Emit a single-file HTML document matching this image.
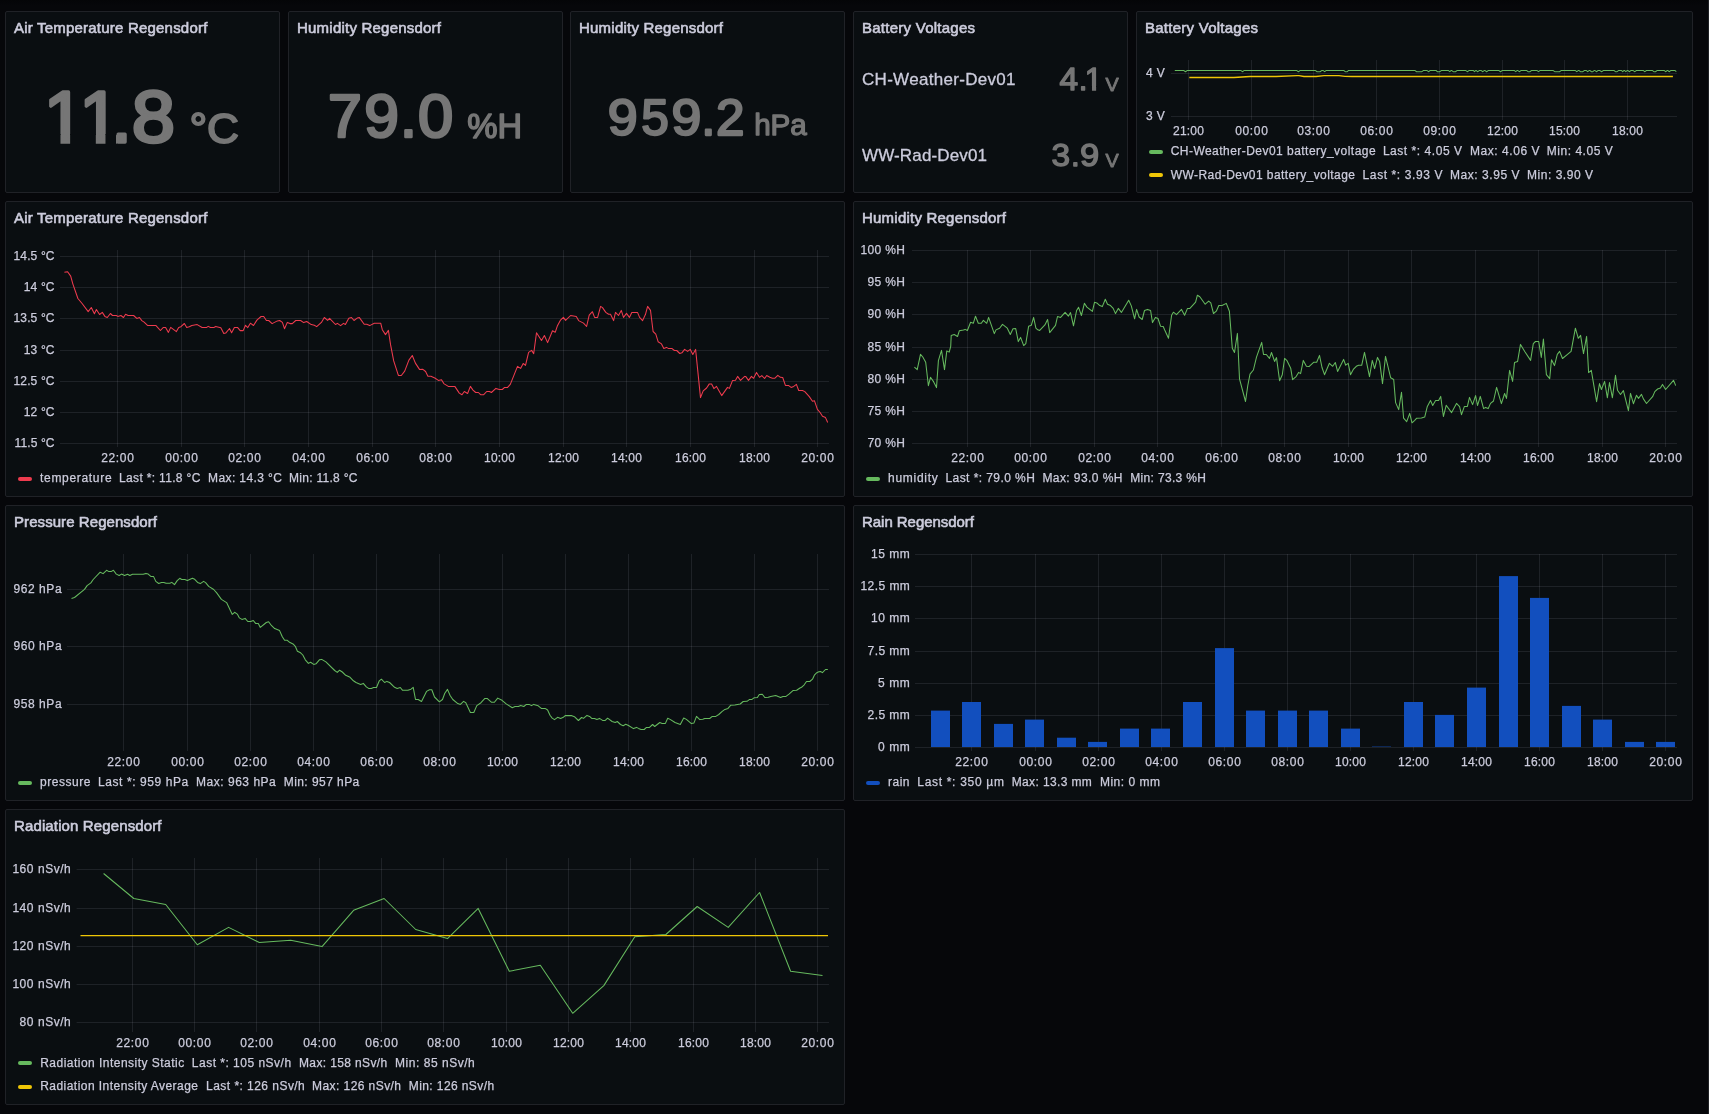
<!DOCTYPE html>
<html><head><meta charset="utf-8"><title>Weather Regensdorf</title>
<style>
html,body{margin:0;padding:0;background:#06070a;overflow:hidden}
body{width:1709px;height:1114px;position:relative;font-family:"Liberation Sans", sans-serif;color:#ccccdc}
.topg{position:absolute;left:0;top:0;width:1709px;height:6px;background:linear-gradient(#040507,#06070a)}
.sb{position:absolute;left:1708px;top:0;width:1px;height:1114px;background:#1f2125}
.p{position:absolute;box-sizing:border-box;background:#0a0e11;border:1px solid #202227;border-radius:2px}
svg{position:absolute;left:-1px;top:-1px;will-change:transform;overflow:visible}
svg text{font-family:"Liberation Sans", sans-serif;stroke:#ccccdc;stroke-width:0.25px}
svg text.t{font-size:15px;stroke-width:0.6px}
svg text.big{fill:#767676;stroke:#767676;stroke-linejoin:round}
svg text.lbl{stroke-width:0.3px}
</style></head><body>
<div class="topg"></div><div class="sb"></div>
<section class="p" id="stat_temp" style="left:5px;top:11px;width:275px;height:182px">
<svg width="275" height="182" viewBox="5 11 275 182">
<text class="t" x="14" y="33" fill="#ccccdc" textLength="193.3" lengthAdjust="spacing">Air Temperature Regensdorf</text>
<text class="big" y="142.37" font-size="72.95" style="stroke-width:3.26px"><tspan x="43.78">1</tspan><tspan x="79.13">1</tspan><tspan x="111.55">.</tspan><tspan x="131.88" textLength="43.32" lengthAdjust="spacingAndGlyphs">8</tspan></text>
<rect x="46.00" y="134" width="14.46" height="11" fill="#0a0e11"/>
<rect x="70.14" y="134" width="13.86" height="11" fill="#0a0e11"/>
<rect x="82.00" y="134" width="13.81" height="11" fill="#0a0e11"/>
<rect x="105.49" y="134" width="10.51" height="11" fill="#0a0e11"/>
<text class="big" x="189.43" y="143.07" font-size="41.89" style="stroke-width:1.87px" textLength="49.6" lengthAdjust="spacingAndGlyphs">°C</text>
</svg></section>
<section class="p" id="stat_hum" style="left:288px;top:11px;width:275px;height:182px">
<svg width="275" height="182" viewBox="288 11 275 182">
<text class="t" x="297" y="33" fill="#ccccdc" textLength="144" lengthAdjust="spacing">Humidity Regensdorf</text>
<text class="big" y="137.45" font-size="60.72" style="stroke-width:2.71px"><tspan x="327.96" textLength="33.79" lengthAdjust="spacingAndGlyphs">7</tspan><tspan x="364.22" textLength="34.72" lengthAdjust="spacingAndGlyphs">9</tspan><tspan x="400.09">.</tspan><tspan x="418.09" textLength="35.19" lengthAdjust="spacingAndGlyphs">0</tspan></text>
<text class="big" x="467.30" y="138.10" font-size="35.77" style="stroke-width:1.60px" textLength="54.9" lengthAdjust="spacingAndGlyphs">%H</text>
</svg></section>
<section class="p" id="stat_pres" style="left:570px;top:11px;width:275px;height:182px">
<svg width="275" height="182" viewBox="570 11 275 182">
<text class="t" x="579" y="33" fill="#ccccdc" textLength="144" lengthAdjust="spacing">Humidity Regensdorf</text>
<text class="big" y="134.97" font-size="50.83" style="stroke-width:2.27px"><tspan x="607.70" textLength="29.95" lengthAdjust="spacingAndGlyphs">9</tspan><tspan x="641.15" textLength="27.54" lengthAdjust="spacingAndGlyphs">5</tspan><tspan x="671.41" textLength="29.83" lengthAdjust="spacingAndGlyphs">9</tspan><tspan x="701.21">.</tspan><tspan x="715.97" textLength="28.51" lengthAdjust="spacingAndGlyphs">2</tspan></text>
<text class="big" x="754.15" y="135.45" font-size="29.18" style="stroke-width:1.30px" textLength="52.7" lengthAdjust="spacingAndGlyphs">hPa</text>
</svg></section>
<section class="p" id="stat_bat" style="left:853px;top:11px;width:275px;height:182px">
<svg width="275" height="182" viewBox="853 11 275 182">
<text class="t" x="862" y="33" fill="#ccccdc" textLength="113" lengthAdjust="spacing">Battery Voltages</text>
<text class="big" y="90.20" font-size="31.35" style="stroke-width:1.40px"><tspan x="1059.63" textLength="18.57" lengthAdjust="spacingAndGlyphs">4</tspan><tspan x="1078.76">.</tspan><tspan x="1084.80">1</tspan></text>
<rect x="1086.10" y="86" width="5.87" height="6" fill="#0a0e11"/>
<rect x="1096.13" y="86" width="6.87" height="6" fill="#0a0e11"/>
<text class="big" x="1105.42" y="90.58" font-size="18.83" style="stroke-width:0.84px" textLength="13.2" lengthAdjust="spacingAndGlyphs">V</text>
<text class="big" y="166.20" font-size="31.35" style="stroke-width:1.40px"><tspan x="1051.43" textLength="18.57" lengthAdjust="spacingAndGlyphs">3</tspan><tspan x="1070.91">.</tspan><tspan x="1080.08" textLength="19.18" lengthAdjust="spacingAndGlyphs">9</tspan></text>
<text class="big" x="1105.42" y="166.58" font-size="18.83" style="stroke-width:0.84px" textLength="13.2" lengthAdjust="spacingAndGlyphs">V</text>
<text class="lbl" x="862" y="85" font-size="17" fill="#ccccdc" textLength="153.5" lengthAdjust="spacing">CH-Weather-Dev01</text>
<text class="lbl" x="862" y="160.8" font-size="17" fill="#ccccdc" textLength="125" lengthAdjust="spacing">WW-Rad-Dev01</text>
</svg></section>
<section class="p" id="bat" style="left:1136px;top:11px;width:557px;height:182px">
<svg width="557" height="182" viewBox="1136 11 557 182">
<text class="t" x="1145" y="33" fill="#ccccdc" textLength="113" lengthAdjust="spacing">Battery Voltages</text>
<rect x="1171" y="73" width="506" height="1" fill="rgba(204,210,225,0.105)"/>
<rect x="1171" y="116" width="506" height="1" fill="rgba(204,210,225,0.105)"/>
<rect x="1188" y="60" width="1" height="60" fill="rgba(204,210,225,0.105)"/>
<rect x="1251" y="60" width="1" height="60" fill="rgba(204,210,225,0.105)"/>
<rect x="1313" y="60" width="1" height="60" fill="rgba(204,210,225,0.105)"/>
<rect x="1376" y="60" width="1" height="60" fill="rgba(204,210,225,0.105)"/>
<rect x="1439" y="60" width="1" height="60" fill="rgba(204,210,225,0.105)"/>
<rect x="1502" y="60" width="1" height="60" fill="rgba(204,210,225,0.105)"/>
<rect x="1564" y="60" width="1" height="60" fill="rgba(204,210,225,0.105)"/>
<rect x="1627" y="60" width="1" height="60" fill="rgba(204,210,225,0.105)"/>
<text x="1164.8" y="76.8" font-size="12" text-anchor="end" fill="#ccccdc"  textLength="18.7" lengthAdjust="spacing">4 V</text>
<text x="1164.8" y="119.8" font-size="12" text-anchor="end" fill="#ccccdc"  textLength="18.7" lengthAdjust="spacing">3 V</text>
<text x="1188.5" y="134.8" font-size="12" text-anchor="middle" fill="#ccccdc"  textLength="30.8" lengthAdjust="spacing">21:00</text>
<text x="1251.5" y="134.8" font-size="12" text-anchor="middle" fill="#ccccdc"  textLength="32.7" lengthAdjust="spacing">00:00</text>
<text x="1313.5" y="134.8" font-size="12" text-anchor="middle" fill="#ccccdc"  textLength="32.7" lengthAdjust="spacing">03:00</text>
<text x="1376.5" y="134.8" font-size="12" text-anchor="middle" fill="#ccccdc"  textLength="32.7" lengthAdjust="spacing">06:00</text>
<text x="1439.5" y="134.8" font-size="12" text-anchor="middle" fill="#ccccdc"  textLength="32.7" lengthAdjust="spacing">09:00</text>
<text x="1502.5" y="134.8" font-size="12" text-anchor="middle" fill="#ccccdc"  textLength="30.8" lengthAdjust="spacing">12:00</text>
<text x="1564.5" y="134.8" font-size="12" text-anchor="middle" fill="#ccccdc"  textLength="30.8" lengthAdjust="spacing">15:00</text>
<text x="1627.5" y="134.8" font-size="12" text-anchor="middle" fill="#ccccdc"  textLength="30.8" lengthAdjust="spacing">18:00</text>
<polyline points="1174.8,70.4 1183.6,70.4 1185.5,71.7 1187.4,70.4 1240.7,70.4 1242.4,71.7 1244.3,70.4 1295.8,70.4 1296.5,70.4 1298.4,71.7 1300.3,70.4 1315.2,70.4 1317.1,71.7 1320.1,71.7 1322.0,70.4 1323.0,70.4 1324.7,71.7 1326.3,70.4 1343.7,70.4 1345.2,71.7 1347.3,71.7 1348.6,70.4 1414.8,70.4 1416.6,71.7 1421.9,71.7 1423.6,70.4 1424.3,70.4 1424.6,70.4 1426.8,70.4 1428.5,71.7 1430.3,70.4 1436.0,70.4 1437.3,71.7 1439.6,71.7 1441.7,70.4 1448.2,70.4 1449.8,71.7 1451.3,70.4 1451.5,70.4 1453.2,71.7 1455.4,71.7 1457.3,70.4 1465.6,70.4 1467.3,71.7 1469.3,70.4 1473.2,70.4 1474.5,71.7 1475.9,70.4 1476.1,70.4 1477.5,71.7 1479.6,70.4 1481.0,70.4 1482.8,71.7 1484.5,70.4 1484.8,70.4 1486.6,71.7 1488.5,70.4 1498.7,70.4 1500.5,71.7 1502.4,70.4 1514.2,70.4 1515.7,71.7 1517.3,70.4 1517.6,70.4 1519.3,71.7 1521.2,70.4 1526.5,70.4 1528.0,71.7 1529.9,71.7 1531.7,70.4 1536.8,70.4 1538.5,71.7 1540.2,70.4 1549.3,70.4 1550.0,70.4 1553.0,70.4 1554.7,71.7 1559.5,71.7 1561.4,70.4 1575.1,70.4 1576.8,71.7 1578.5,70.4 1578.8,70.4 1580.4,71.7 1582.7,71.7 1584.6,70.4 1586.1,70.4 1587.7,71.7 1589.4,70.4 1589.7,70.4 1591.5,71.7 1592.8,71.7 1594.4,70.4 1594.7,70.4 1596.4,71.7 1598.2,70.4 1599.6,70.4 1601.6,71.7 1603.6,70.4 1613.9,70.4 1615.4,71.7 1617.1,71.7 1618.8,70.4 1621.3,70.4 1622.7,71.7 1624.1,70.4 1624.4,70.4 1625.8,71.7 1627.4,70.4 1627.7,70.4 1629.5,71.7 1631.1,70.4 1632.9,70.4 1634.6,71.7 1636.6,70.4 1643.2,70.4 1644.7,71.7 1646.6,70.4 1652.3,70.4 1653.9,71.7 1655.4,71.7 1657.3,70.4 1664.1,70.4 1665.6,71.7 1667.4,70.4 1667.7,70.4 1669.1,71.7 1671.0,70.4 1674.8,70.4 1676.3,71.7" fill="none" stroke="#66B95E" stroke-width="1.05" stroke-linejoin="round" stroke-linecap="butt"/>
<polyline points="1189.3,77.5 1234.0,77.5 1250.0,76.5 1276.0,76.5 1297.0,75.6 1299.0,75.7 1304.0,76.5 1316.0,76.5 1324.0,75.6 1339.0,75.6 1345.0,76.4 1352.0,76.5 1672.9,76.5" fill="none" stroke="#EFC606" stroke-width="1.3" stroke-linejoin="round" stroke-linecap="butt"/>
<rect x="1149" y="150" width="14" height="4" rx="2" fill="#66B95E"/>
<text x="1170.7" y="155" font-size="12" text-anchor="start" fill="#ccccdc"  textLength="204.9" lengthAdjust="spacing">CH-Weather-Dev01 battery_voltage</text>
<text x="1382.9" y="155" font-size="12" text-anchor="start" fill="#ccccdc"  textLength="79.1" lengthAdjust="spacing">Last *: 4.05 V</text>
<text x="1469.9" y="155" font-size="12" text-anchor="start" fill="#ccccdc"  textLength="69.7" lengthAdjust="spacing">Max: 4.06 V</text>
<text x="1546.8" y="155" font-size="12" text-anchor="start" fill="#ccccdc"  textLength="65.9" lengthAdjust="spacing">Min: 4.05 V</text>
<rect x="1149" y="173" width="14" height="4" rx="2" fill="#EFC606"/>
<text x="1170.7" y="179" font-size="12" text-anchor="start" fill="#ccccdc"  textLength="184.3" lengthAdjust="spacing">WW-Rad-Dev01 battery_voltage</text>
<text x="1362.6" y="179" font-size="12" text-anchor="start" fill="#ccccdc"  textLength="79.8" lengthAdjust="spacing">Last *: 3.93 V</text>
<text x="1450.0" y="179" font-size="12" text-anchor="start" fill="#ccccdc"  textLength="69.6" lengthAdjust="spacing">Max: 3.95 V</text>
<text x="1526.9" y="179" font-size="12" text-anchor="start" fill="#ccccdc"  textLength="66.2" lengthAdjust="spacing">Min: 3.90 V</text>
</svg></section>
<section class="p" id="temp" style="left:5px;top:201px;width:840px;height:296px">
<svg width="840" height="296" viewBox="5 201 840 296">
<text class="t" x="14" y="223" fill="#ccccdc" textLength="193.3" lengthAdjust="spacing">Air Temperature Regensdorf</text>
<rect x="60" y="256" width="769" height="1" fill="rgba(204,210,225,0.105)"/>
<rect x="60" y="287" width="769" height="1" fill="rgba(204,210,225,0.105)"/>
<rect x="60" y="318" width="769" height="1" fill="rgba(204,210,225,0.105)"/>
<rect x="60" y="350" width="769" height="1" fill="rgba(204,210,225,0.105)"/>
<rect x="60" y="381" width="769" height="1" fill="rgba(204,210,225,0.105)"/>
<rect x="60" y="412" width="769" height="1" fill="rgba(204,210,225,0.105)"/>
<rect x="60" y="443" width="769" height="1" fill="rgba(204,210,225,0.105)"/>
<rect x="117" y="250" width="1" height="197" fill="rgba(204,210,225,0.105)"/>
<rect x="181" y="250" width="1" height="197" fill="rgba(204,210,225,0.105)"/>
<rect x="244" y="250" width="1" height="197" fill="rgba(204,210,225,0.105)"/>
<rect x="308" y="250" width="1" height="197" fill="rgba(204,210,225,0.105)"/>
<rect x="372" y="250" width="1" height="197" fill="rgba(204,210,225,0.105)"/>
<rect x="435" y="250" width="1" height="197" fill="rgba(204,210,225,0.105)"/>
<rect x="499" y="250" width="1" height="197" fill="rgba(204,210,225,0.105)"/>
<rect x="563" y="250" width="1" height="197" fill="rgba(204,210,225,0.105)"/>
<rect x="626" y="250" width="1" height="197" fill="rgba(204,210,225,0.105)"/>
<rect x="690" y="250" width="1" height="197" fill="rgba(204,210,225,0.105)"/>
<rect x="754" y="250" width="1" height="197" fill="rgba(204,210,225,0.105)"/>
<rect x="817" y="250" width="1" height="197" fill="rgba(204,210,225,0.105)"/>
<text x="54.5" y="259.6" font-size="12" text-anchor="end" fill="#ccccdc"  textLength="41.0" lengthAdjust="spacing">14.5 °C</text>
<text x="54.5" y="290.6" font-size="12" text-anchor="end" fill="#ccccdc"  textLength="30.7" lengthAdjust="spacing">14 °C</text>
<text x="54.5" y="321.6" font-size="12" text-anchor="end" fill="#ccccdc"  textLength="41.0" lengthAdjust="spacing">13.5 °C</text>
<text x="54.5" y="353.6" font-size="12" text-anchor="end" fill="#ccccdc"  textLength="30.7" lengthAdjust="spacing">13 °C</text>
<text x="54.5" y="384.6" font-size="12" text-anchor="end" fill="#ccccdc"  textLength="41.0" lengthAdjust="spacing">12.5 °C</text>
<text x="54.5" y="415.6" font-size="12" text-anchor="end" fill="#ccccdc"  textLength="30.7" lengthAdjust="spacing">12 °C</text>
<text x="54.5" y="446.6" font-size="12" text-anchor="end" fill="#ccccdc"  textLength="40.0" lengthAdjust="spacing">11.5 °C</text>
<text x="117.5" y="461.9" font-size="12" text-anchor="middle" fill="#ccccdc"  textLength="32.7" lengthAdjust="spacing">22:00</text>
<text x="181.5" y="461.9" font-size="12" text-anchor="middle" fill="#ccccdc"  textLength="32.7" lengthAdjust="spacing">00:00</text>
<text x="244.5" y="461.9" font-size="12" text-anchor="middle" fill="#ccccdc"  textLength="32.7" lengthAdjust="spacing">02:00</text>
<text x="308.5" y="461.9" font-size="12" text-anchor="middle" fill="#ccccdc"  textLength="32.7" lengthAdjust="spacing">04:00</text>
<text x="372.5" y="461.9" font-size="12" text-anchor="middle" fill="#ccccdc"  textLength="32.7" lengthAdjust="spacing">06:00</text>
<text x="435.5" y="461.9" font-size="12" text-anchor="middle" fill="#ccccdc"  textLength="32.7" lengthAdjust="spacing">08:00</text>
<text x="499.5" y="461.9" font-size="12" text-anchor="middle" fill="#ccccdc"  textLength="30.8" lengthAdjust="spacing">10:00</text>
<text x="563.5" y="461.9" font-size="12" text-anchor="middle" fill="#ccccdc"  textLength="30.8" lengthAdjust="spacing">12:00</text>
<text x="626.5" y="461.9" font-size="12" text-anchor="middle" fill="#ccccdc"  textLength="30.8" lengthAdjust="spacing">14:00</text>
<text x="690.5" y="461.9" font-size="12" text-anchor="middle" fill="#ccccdc"  textLength="30.8" lengthAdjust="spacing">16:00</text>
<text x="754.5" y="461.9" font-size="12" text-anchor="middle" fill="#ccccdc"  textLength="30.8" lengthAdjust="spacing">18:00</text>
<text x="817.5" y="461.9" font-size="12" text-anchor="middle" fill="#ccccdc"  textLength="32.7" lengthAdjust="spacing">20:00</text>
<polyline points="64.4,272.3 67.6,271.7 70.7,276.1 72.9,284.1 77.9,298.5 82.1,303.5 88.2,311.6 91.3,307.5 94.4,313.7 96.4,309.5 99.6,314.5 102.3,312.4 104.9,316.4 107.3,317.5 110.4,313.5 112.5,315.5 116.3,315.5 117.8,316.4 120.9,315.5 123.5,317.5 125.6,314.3 128.1,315.5 133.6,315.5 136.8,318.4 139.5,317.5 141.8,320.6 144.1,322.1 147.5,325.4 155.8,325.4 160.4,330.5 163.4,327.4 165.6,327.4 168.4,332.4 170.7,327.4 176.4,331.6 178.7,327.4 180.9,326.7 184.4,323.5 186.7,327.4 189.3,326.8 191.8,325.5 197.2,324.6 202.1,327.5 206.7,327.4 208.2,326.4 210.5,327.5 213.9,327.5 215.8,326.4 220.8,327.8 223.8,333.5 225.7,333.1 229.5,328.5 231.6,332.7 234.4,327.4 237.5,327.4 240.2,330.6 243.2,330.6 245.5,325.3 247.8,327.6 250.4,323.2 253.5,325.5 256.9,320.1 261.1,316.5 263.7,316.5 266.4,320.5 268.7,320.5 272.1,323.6 277.4,320.9 279.7,320.5 282.4,322.4 284.5,328.7 287.3,322.4 290.0,323.6 292.3,323.6 295.7,320.5 300.6,320.5 303.7,322.6 306.7,321.5 311.3,324.6 314.3,325.3 316.7,326.6 321.4,322.4 324.3,317.5 327.6,320.4 329.6,318.4 335.5,324.5 337.4,323.4 340.6,325.6 343.5,323.4 345.4,324.5 348.8,318.3 351.5,317.5 354.0,320.5 357.2,318.1 359.4,317.6 364.2,324.3 366.7,324.3 369.7,325.6 374.3,323.2 380.7,323.2 382.3,329.7 385.5,334.6 388.4,330.4 390.6,344.9 393.7,360.9 398.2,374.9 398.6,375.5 401.3,375.5 404.7,371.1 408.9,360.1 412.3,355.5 415.4,363.1 419.5,369.4 422.6,369.2 425.6,371.5 427.9,376.3 430.9,376.3 434.8,378.0 438.4,380.4 441.5,379.8 443.8,383.6 448.3,386.4 454.8,386.4 459.3,393.1 462.0,394.7 464.3,391.5 467.6,393.5 470.4,386.4 473.0,390.1 475.7,392.5 478.4,392.5 480.6,394.7 483.7,394.7 486.7,391.5 489.4,391.5 491.4,392.5 495.9,388.4 499.3,389.5 502.3,389.5 504.6,387.4 507.6,387.4 510.3,384.4 514.1,374.9 517.5,366.4 520.6,368.4 523.2,363.5 525.5,365.4 528.6,352.4 531.6,350.4 533.7,353.6 536.5,332.7 541.5,340.5 544.4,335.5 547.6,342.6 552.5,330.8 555.2,332.3 557.3,326.1 560.3,320.4 563.4,317.4 565.6,320.4 570.6,315.5 576.3,316.5 578.6,320.6 583.5,323.1 586.6,326.5 589.2,315.1 592.4,311.7 594.6,317.4 597.6,317.4 600.6,306.4 602.5,307.6 605.8,312.4 608.6,314.3 610.5,314.3 613.6,320.6 615.5,312.4 618.5,315.5 621.3,310.4 623.5,317.4 626.5,313.4 629.4,317.4 631.8,312.4 637.5,312.4 639.6,317.4 642.6,320.6 645.5,314.3 647.6,306.4 650.5,310.4 653.1,331.5 655.8,334.1 658.1,341.7 661.5,343.9 663.8,348.4 666.4,347.4 668.3,348.4 671.8,348.4 674.4,350.5 676.7,350.5 679.8,353.5 681.9,352.8 684.6,349.4 687.6,351.4 690.3,349.4 692.8,354.5 695.6,349.4 700.5,397.6 703.2,390.9 706.6,388.0 709.3,383.9 711.6,383.9 713.9,388.6 716.5,386.4 721.7,395.6 727.5,387.4 729.4,388.4 732.5,380.6 735.5,380.2 737.6,376.4 740.5,380.4 744.7,376.4 745.8,376.6 748.5,380.4 751.5,376.4 753.6,378.3 756.5,372.4 759.5,377.3 761.8,375.6 764.6,378.5 766.7,375.5 769.8,377.3 772.4,378.3 774.7,378.3 777.8,375.4 780.4,377.3 782.7,377.5 785.4,385.4 788.4,385.4 791.1,387.4 793.7,386.4 796.4,384.4 798.7,390.5 802.5,390.5 804.8,391.6 809.3,396.6 812.5,401.2 814.4,400.7 817.4,409.3 820.1,412.5 822.5,416.2 825.5,417.6 827.7,422.5" fill="none" stroke="#EE3B4E" stroke-width="1.05" stroke-linejoin="round" stroke-linecap="butt"/>
<rect x="18" y="477" width="14" height="4" rx="2" fill="#EE3B4E"/>
<text x="40.0" y="482" font-size="12" text-anchor="start" fill="#ccccdc"  textLength="71.6" lengthAdjust="spacing">temperature</text>
<text x="119.1" y="482" font-size="12" text-anchor="start" fill="#ccccdc"  textLength="81.2" lengthAdjust="spacing">Last *: 11.8 °C</text>
<text x="208.1" y="482" font-size="12" text-anchor="start" fill="#ccccdc"  textLength="73.7" lengthAdjust="spacing">Max: 14.3 °C</text>
<text x="289.1" y="482" font-size="12" text-anchor="start" fill="#ccccdc"  textLength="68.3" lengthAdjust="spacing">Min: 11.8 °C</text>
</svg></section>
<section class="p" id="hum" style="left:853px;top:201px;width:840px;height:296px">
<svg width="840" height="296" viewBox="853 201 840 296">
<text class="t" x="862" y="223" fill="#ccccdc" textLength="144" lengthAdjust="spacing">Humidity Regensdorf</text>
<rect x="912" y="250" width="765" height="1" fill="rgba(204,210,225,0.105)"/>
<rect x="912" y="282" width="765" height="1" fill="rgba(204,210,225,0.105)"/>
<rect x="912" y="314" width="765" height="1" fill="rgba(204,210,225,0.105)"/>
<rect x="912" y="347" width="765" height="1" fill="rgba(204,210,225,0.105)"/>
<rect x="912" y="379" width="765" height="1" fill="rgba(204,210,225,0.105)"/>
<rect x="912" y="411" width="765" height="1" fill="rgba(204,210,225,0.105)"/>
<rect x="912" y="443" width="765" height="1" fill="rgba(204,210,225,0.105)"/>
<rect x="967" y="250" width="1" height="197" fill="rgba(204,210,225,0.105)"/>
<rect x="1030" y="250" width="1" height="197" fill="rgba(204,210,225,0.105)"/>
<rect x="1094" y="250" width="1" height="197" fill="rgba(204,210,225,0.105)"/>
<rect x="1157" y="250" width="1" height="197" fill="rgba(204,210,225,0.105)"/>
<rect x="1221" y="250" width="1" height="197" fill="rgba(204,210,225,0.105)"/>
<rect x="1284" y="250" width="1" height="197" fill="rgba(204,210,225,0.105)"/>
<rect x="1348" y="250" width="1" height="197" fill="rgba(204,210,225,0.105)"/>
<rect x="1411" y="250" width="1" height="197" fill="rgba(204,210,225,0.105)"/>
<rect x="1475" y="250" width="1" height="197" fill="rgba(204,210,225,0.105)"/>
<rect x="1538" y="250" width="1" height="197" fill="rgba(204,210,225,0.105)"/>
<rect x="1602" y="250" width="1" height="197" fill="rgba(204,210,225,0.105)"/>
<rect x="1665" y="250" width="1" height="197" fill="rgba(204,210,225,0.105)"/>
<text x="904.8" y="253.6" font-size="12" text-anchor="end" fill="#ccccdc"  textLength="44.2" lengthAdjust="spacing">100 %H</text>
<text x="904.8" y="285.6" font-size="12" text-anchor="end" fill="#ccccdc"  textLength="37.3" lengthAdjust="spacing">95 %H</text>
<text x="904.8" y="317.6" font-size="12" text-anchor="end" fill="#ccccdc"  textLength="37.3" lengthAdjust="spacing">90 %H</text>
<text x="904.8" y="350.6" font-size="12" text-anchor="end" fill="#ccccdc"  textLength="37.3" lengthAdjust="spacing">85 %H</text>
<text x="904.8" y="382.6" font-size="12" text-anchor="end" fill="#ccccdc"  textLength="37.3" lengthAdjust="spacing">80 %H</text>
<text x="904.8" y="414.6" font-size="12" text-anchor="end" fill="#ccccdc"  textLength="37.3" lengthAdjust="spacing">75 %H</text>
<text x="904.8" y="446.6" font-size="12" text-anchor="end" fill="#ccccdc"  textLength="37.3" lengthAdjust="spacing">70 %H</text>
<text x="967.5" y="461.9" font-size="12" text-anchor="middle" fill="#ccccdc"  textLength="32.7" lengthAdjust="spacing">22:00</text>
<text x="1030.5" y="461.9" font-size="12" text-anchor="middle" fill="#ccccdc"  textLength="32.7" lengthAdjust="spacing">00:00</text>
<text x="1094.5" y="461.9" font-size="12" text-anchor="middle" fill="#ccccdc"  textLength="32.7" lengthAdjust="spacing">02:00</text>
<text x="1157.5" y="461.9" font-size="12" text-anchor="middle" fill="#ccccdc"  textLength="32.7" lengthAdjust="spacing">04:00</text>
<text x="1221.5" y="461.9" font-size="12" text-anchor="middle" fill="#ccccdc"  textLength="32.7" lengthAdjust="spacing">06:00</text>
<text x="1284.5" y="461.9" font-size="12" text-anchor="middle" fill="#ccccdc"  textLength="32.7" lengthAdjust="spacing">08:00</text>
<text x="1348.5" y="461.9" font-size="12" text-anchor="middle" fill="#ccccdc"  textLength="30.8" lengthAdjust="spacing">10:00</text>
<text x="1411.5" y="461.9" font-size="12" text-anchor="middle" fill="#ccccdc"  textLength="30.8" lengthAdjust="spacing">12:00</text>
<text x="1475.5" y="461.9" font-size="12" text-anchor="middle" fill="#ccccdc"  textLength="30.8" lengthAdjust="spacing">14:00</text>
<text x="1538.5" y="461.9" font-size="12" text-anchor="middle" fill="#ccccdc"  textLength="30.8" lengthAdjust="spacing">16:00</text>
<text x="1602.5" y="461.9" font-size="12" text-anchor="middle" fill="#ccccdc"  textLength="30.8" lengthAdjust="spacing">18:00</text>
<text x="1665.5" y="461.9" font-size="12" text-anchor="middle" fill="#ccccdc"  textLength="32.7" lengthAdjust="spacing">20:00</text>
<polyline points="914.4,367.1 917.2,369.6 920.5,354.3 922.8,357.0 925.7,362.2 928.4,385.7 930.5,377.3 933.7,381.9 936.5,387.6 938.4,360.7 941.5,350.4 944.5,369.6 946.8,350.9 949.2,352.1 950.7,346.4 951.2,335.5 954.2,334.5 957.5,336.5 959.4,330.7 963.4,329.9 965.1,329.4 967.4,330.5 970.6,322.3 973.3,323.3 975.5,316.2 978.3,323.3 981.3,323.3 983.4,320.4 986.7,323.3 988.6,317.4 994.3,333.6 996.0,329.9 999.6,328.2 1002.5,324.4 1007.3,328.2 1010.3,334.5 1013.0,328.8 1015.7,328.6 1018.3,341.6 1020.6,337.4 1023.7,345.6 1025.8,343.6 1028.6,326.3 1031.3,325.3 1033.6,317.4 1035.9,328.2 1037.8,329.8 1039.7,330.4 1044.9,324.9 1047.6,319.5 1049.7,332.6 1055.5,325.4 1057.5,316.5 1060.6,317.4 1065.1,312.4 1068.4,316.2 1070.5,312.6 1073.5,325.8 1076.6,310.5 1078.6,307.3 1081.4,315.5 1084.4,303.3 1086.9,307.1 1092.4,311.4 1094.5,302.3 1096.8,302.9 1099.8,305.6 1102.3,306.6 1105.3,299.2 1107.5,304.3 1110.5,305.6 1113.2,308.4 1115.5,313.6 1118.3,308.4 1121.4,312.4 1128.7,300.2 1131.3,305.9 1134.6,318.8 1136.6,309.4 1139.1,317.0 1142.2,319.5 1144.5,310.5 1147.5,309.4 1150.6,310.5 1152.5,322.6 1155.4,317.4 1158.0,318.5 1160.5,326.2 1163.2,326.5 1164.7,330.0 1168.5,338.3 1171.6,315.3 1173.4,312.2 1176.5,314.6 1181.5,309.4 1184.6,315.3 1187.4,308.6 1189.9,308.4 1195.6,302.2 1197.4,295.2 1199.8,296.7 1205.2,304.2 1208.7,301.1 1210.8,302.9 1213.5,313.5 1216.3,311.2 1218.8,305.5 1222.0,305.5 1226.3,303.4 1229.4,311.2 1232.3,348.3 1234.5,352.5 1237.4,333.4 1239.5,378.8 1245.5,401.5 1247.8,385.5 1250.0,374.1 1253.4,370.0 1256.5,357.1 1261.7,342.4 1263.5,354.5 1266.3,354.5 1269.5,358.4 1271.5,352.5 1274.6,361.4 1276.5,357.6 1279.6,380.7 1282.3,374.7 1284.6,358.4 1287.0,360.7 1289.6,365.9 1290.7,368.2 1292.6,379.7 1296.1,376.6 1298.6,372.4 1300.6,373.6 1303.3,360.4 1306.4,366.3 1309.0,366.6 1313.6,362.3 1316.7,362.3 1319.5,355.4 1322.0,367.5 1324.5,374.7 1329.4,363.3 1332.7,366.3 1335.3,362.5 1337.6,371.4 1343.6,359.4 1345.7,365.2 1348.2,363.3 1350.5,374.7 1353.3,369.4 1356.3,366.3 1358.6,365.3 1361.7,365.3 1364.5,352.4 1369.5,376.6 1372.3,360.4 1374.6,368.6 1377.5,357.4 1379.6,361.4 1382.5,383.6 1385.5,356.4 1390.7,377.8 1393.7,379.5 1395.6,402.6 1398.7,409.6 1401.5,392.3 1403.6,418.2 1406.7,421.6 1409.7,413.4 1412.0,422.8 1414.7,420.3 1416.5,418.3 1421.4,417.9 1424.7,417.1 1427.2,406.8 1430.5,400.4 1432.7,405.5 1435.6,400.5 1438.6,400.4 1440.7,396.4 1443.4,416.5 1446.2,405.3 1451.6,412.6 1456.5,403.4 1459.6,406.6 1461.5,414.7 1464.3,406.6 1467.4,406.4 1469.5,397.4 1472.6,404.6 1475.6,395.6 1477.5,405.5 1480.3,396.4 1483.6,408.6 1485.5,407.4 1488.2,408.6 1490.5,403.4 1493.5,401.0 1496.6,387.4 1501.4,403.6 1504.6,393.5 1506.5,398.4 1509.6,370.4 1512.6,381.4 1514.5,362.6 1517.6,361.4 1520.5,344.4 1524.9,351.7 1530.6,360.4 1533.3,343.6 1535.5,341.5 1538.7,341.5 1541.3,357.5 1543.4,339.1 1546.4,374.6 1549.7,378.6 1551.5,359.7 1554.5,365.6 1557.3,354.3 1559.6,351.4 1562.5,358.5 1567.5,354.3 1571.1,351.3 1575.4,328.2 1578.3,338.3 1580.6,335.4 1583.5,353.6 1586.6,336.4 1588.6,372.6 1591.3,370.4 1596.6,401.7 1599.5,383.6 1601.4,389.5 1604.6,381.4 1607.4,397.8 1609.5,382.5 1612.4,397.8 1615.5,375.3 1617.5,390.3 1620.5,394.5 1623.4,390.6 1628.4,410.6 1630.5,393.4 1633.4,403.7 1636.5,395.3 1638.5,398.4 1641.5,394.4 1643.4,398.9 1646.5,403.5 1652.6,396.7 1654.8,391.6 1657.6,389.0 1660.4,388.1 1662.5,384.4 1665.6,389.5 1673.5,380.3 1675.7,385.6" fill="none" stroke="#66B95E" stroke-width="1.05" stroke-linejoin="round" stroke-linecap="butt"/>
<rect x="866" y="477" width="14" height="4" rx="2" fill="#66B95E"/>
<text x="888.0" y="482" font-size="12" text-anchor="start" fill="#ccccdc"  textLength="49.7" lengthAdjust="spacing">humidity</text>
<text x="945.5" y="482" font-size="12" text-anchor="start" fill="#ccccdc"  textLength="89.3" lengthAdjust="spacing">Last *: 79.0 %H</text>
<text x="1042.4" y="482" font-size="12" text-anchor="start" fill="#ccccdc"  textLength="80.0" lengthAdjust="spacing">Max: 93.0 %H</text>
<text x="1130.3" y="482" font-size="12" text-anchor="start" fill="#ccccdc"  textLength="75.6" lengthAdjust="spacing">Min: 73.3 %H</text>
</svg></section>
<section class="p" id="pres" style="left:5px;top:505px;width:840px;height:296px">
<svg width="840" height="296" viewBox="5 505 840 296">
<text class="t" x="14" y="527" fill="#ccccdc" textLength="143" lengthAdjust="spacing">Pressure Regensdorf</text>
<rect x="67" y="589" width="762" height="1" fill="rgba(204,210,225,0.105)"/>
<rect x="67" y="646" width="762" height="1" fill="rgba(204,210,225,0.105)"/>
<rect x="67" y="704" width="762" height="1" fill="rgba(204,210,225,0.105)"/>
<rect x="123" y="554" width="1" height="197" fill="rgba(204,210,225,0.105)"/>
<rect x="187" y="554" width="1" height="197" fill="rgba(204,210,225,0.105)"/>
<rect x="250" y="554" width="1" height="197" fill="rgba(204,210,225,0.105)"/>
<rect x="313" y="554" width="1" height="197" fill="rgba(204,210,225,0.105)"/>
<rect x="376" y="554" width="1" height="197" fill="rgba(204,210,225,0.105)"/>
<rect x="439" y="554" width="1" height="197" fill="rgba(204,210,225,0.105)"/>
<rect x="502" y="554" width="1" height="197" fill="rgba(204,210,225,0.105)"/>
<rect x="565" y="554" width="1" height="197" fill="rgba(204,210,225,0.105)"/>
<rect x="628" y="554" width="1" height="197" fill="rgba(204,210,225,0.105)"/>
<rect x="691" y="554" width="1" height="197" fill="rgba(204,210,225,0.105)"/>
<rect x="754" y="554" width="1" height="197" fill="rgba(204,210,225,0.105)"/>
<rect x="817" y="554" width="1" height="197" fill="rgba(204,210,225,0.105)"/>
<text x="61.6" y="592.6" font-size="12" text-anchor="end" fill="#ccccdc"  textLength="48.1" lengthAdjust="spacing">962 hPa</text>
<text x="61.6" y="649.6" font-size="12" text-anchor="end" fill="#ccccdc"  textLength="48.1" lengthAdjust="spacing">960 hPa</text>
<text x="61.6" y="707.6" font-size="12" text-anchor="end" fill="#ccccdc"  textLength="48.1" lengthAdjust="spacing">958 hPa</text>
<text x="123.5" y="766" font-size="12" text-anchor="middle" fill="#ccccdc"  textLength="32.7" lengthAdjust="spacing">22:00</text>
<text x="187.5" y="766" font-size="12" text-anchor="middle" fill="#ccccdc"  textLength="32.7" lengthAdjust="spacing">00:00</text>
<text x="250.5" y="766" font-size="12" text-anchor="middle" fill="#ccccdc"  textLength="32.7" lengthAdjust="spacing">02:00</text>
<text x="313.5" y="766" font-size="12" text-anchor="middle" fill="#ccccdc"  textLength="32.7" lengthAdjust="spacing">04:00</text>
<text x="376.5" y="766" font-size="12" text-anchor="middle" fill="#ccccdc"  textLength="32.7" lengthAdjust="spacing">06:00</text>
<text x="439.5" y="766" font-size="12" text-anchor="middle" fill="#ccccdc"  textLength="32.7" lengthAdjust="spacing">08:00</text>
<text x="502.5" y="766" font-size="12" text-anchor="middle" fill="#ccccdc"  textLength="30.8" lengthAdjust="spacing">10:00</text>
<text x="565.5" y="766" font-size="12" text-anchor="middle" fill="#ccccdc"  textLength="30.8" lengthAdjust="spacing">12:00</text>
<text x="628.5" y="766" font-size="12" text-anchor="middle" fill="#ccccdc"  textLength="30.8" lengthAdjust="spacing">14:00</text>
<text x="691.5" y="766" font-size="12" text-anchor="middle" fill="#ccccdc"  textLength="30.8" lengthAdjust="spacing">16:00</text>
<text x="754.5" y="766" font-size="12" text-anchor="middle" fill="#ccccdc"  textLength="30.8" lengthAdjust="spacing">18:00</text>
<text x="817.5" y="766" font-size="12" text-anchor="middle" fill="#ccccdc"  textLength="32.7" lengthAdjust="spacing">20:00</text>
<polyline points="71.5,598.4 74.5,597.5 84.5,589.4 87.1,585.6 90.9,582.9 93.2,579.5 100.2,572.2 103.1,573.6 106.6,570.3 108.5,571.4 111.5,571.4 113.4,570.3 116.3,574.1 119.2,575.5 121.5,574.1 124.5,575.5 127.6,574.3 129.8,575.5 132.5,574.3 143.2,574.3 145.9,573.4 148.2,574.1 150.8,576.4 153.5,576.4 155.8,581.4 158.7,583.5 161.5,582.4 163.8,582.4 166.1,583.3 169.9,583.3 171.8,582.4 174.5,584.6 177.2,580.6 179.8,578.3 181.7,579.5 184.8,579.5 187.4,580.5 192.4,578.3 194.7,579.3 197.6,582.4 200.3,583.6 203.6,581.4 205.6,582.6 208.7,586.4 213.7,589.5 216.7,592.9 221.4,599.4 226.6,602.6 232.3,614.4 234.6,612.3 237.3,614.1 239.4,617.9 241.9,619.4 245.1,618.4 247.8,621.5 250.7,621.5 253.3,620.5 255.6,623.4 258.3,623.4 260.3,627.4 266.3,622.5 268.6,621.7 271.6,625.7 274.7,628.6 279.6,630.6 282.3,636.8 284.6,640.3 287.3,640.3 289.6,642.3 293.0,643.9 295.3,646.3 297.4,651.2 300.6,652.8 302.8,655.0 305.3,659.8 308.4,663.4 310.6,662.3 313.7,664.4 316.0,663.8 319.4,659.8 321.7,659.4 325.9,661.9 334.7,670.5 337.3,672.4 339.6,670.2 342.3,672.0 345.7,675.3 350.1,677.3 353.4,680.8 356.0,682.5 360.6,684.4 363.3,683.4 366.3,686.9 368.6,688.4 371.3,688.4 373.6,687.5 376.5,687.5 379.3,680.8 381.4,679.2 384.6,682.5 386.9,681.4 389.6,682.5 394.6,687.3 397.2,688.4 400.3,687.5 402.6,690.3 407.9,690.3 411.0,689.2 413.2,687.3 415.5,699.5 418.2,699.5 421.5,701.5 425.0,694.5 426.5,691.4 429.5,689.8 431.8,689.8 434.5,697.0 439.4,701.8 442.5,699.5 444.8,693.2 447.5,689.4 450.1,695.5 452.8,699.5 457.8,703.6 460.4,704.4 463.6,701.4 465.8,702.7 470.4,712.5 473.8,712.5 476.8,705.6 481.0,702.7 484.9,698.4 487.1,698.4 491.6,702.3 494.4,702.3 497.7,698.1 502.0,700.3 506.2,703.9 512.3,707.7 515.0,706.5 518.4,706.4 520.7,705.4 523.8,706.5 526.4,704.4 529.1,704.4 531.5,705.6 533.7,704.4 538.2,705.8 541.3,708.4 545.1,708.4 547.6,710.0 550.0,715.3 552.2,718.1 554.5,719.6 557.6,717.3 560.6,718.4 563.3,717.3 565.2,715.6 571.3,715.6 574.4,716.7 578.4,720.5 581.6,717.5 583.5,718.4 587.0,715.4 589.6,716.4 591.7,718.4 594.6,718.4 596.9,719.4 599.5,718.4 602.6,720.4 605.3,720.4 607.6,718.2 612.1,721.5 615.2,722.5 617.3,721.5 620.5,724.5 623.2,725.7 625.7,724.3 628.5,725.5 633.5,728.6 636.5,727.4 638.5,728.4 641.1,729.5 644.2,729.5 646.5,727.4 649.5,727.4 652.6,724.5 654.7,726.5 659.8,722.5 662.1,723.4 665.4,723.4 667.7,718.2 670.1,719.4 675.0,722.5 680.3,724.4 683.7,718.0 686.4,719.4 691.4,723.6 694.0,722.9 696.5,716.4 699.8,719.6 702.8,719.3 704.7,718.5 709.7,718.5 712.3,716.4 715.8,716.4 718.8,714.5 721.9,711.6 724.9,709.4 728.0,708.4 730.6,705.3 734.9,704.9 740.2,704.0 743.2,701.5 747.0,701.3 749.3,699.6 752.0,699.4 754.3,697.7 757.4,697.5 759.3,694.4 762.3,694.2 764.8,697.5 768.4,697.3 770.7,696.4 775.7,695.6 780.6,697.5 782.9,696.5 786.0,696.4 789.0,694.2 793.2,690.4 796.6,690.3 800.0,688.0 801.5,687.3 804.2,684.8 806.5,681.5 809.8,681.5 812.5,679.2 814.6,674.8 816.8,672.7 818.8,671.8 820.6,671.5 822.4,672.6 825.5,669.5 827.8,669.5" fill="none" stroke="#66B95E" stroke-width="1.05" stroke-linejoin="round" stroke-linecap="butt"/>
<rect x="18" y="781" width="14" height="4" rx="2" fill="#66B95E"/>
<text x="40.0" y="786" font-size="12" text-anchor="start" fill="#ccccdc"  textLength="50.5" lengthAdjust="spacing">pressure</text>
<text x="98.0" y="786" font-size="12" text-anchor="start" fill="#ccccdc"  textLength="90.2" lengthAdjust="spacing">Last *: 959 hPa</text>
<text x="196.1" y="786" font-size="12" text-anchor="start" fill="#ccccdc"  textLength="79.7" lengthAdjust="spacing">Max: 963 hPa</text>
<text x="283.7" y="786" font-size="12" text-anchor="start" fill="#ccccdc"  textLength="75.6" lengthAdjust="spacing">Min: 957 hPa</text>
</svg></section>
<section class="p" id="rain" style="left:853px;top:505px;width:840px;height:296px">
<svg width="840" height="296" viewBox="853 505 840 296">
<text class="t" x="862" y="527" fill="#ccccdc" textLength="112" lengthAdjust="spacing">Rain Regensdorf</text>
<rect x="915" y="554" width="762" height="1" fill="rgba(204,210,225,0.105)"/>
<rect x="915" y="586" width="762" height="1" fill="rgba(204,210,225,0.105)"/>
<rect x="915" y="618" width="762" height="1" fill="rgba(204,210,225,0.105)"/>
<rect x="915" y="651" width="762" height="1" fill="rgba(204,210,225,0.105)"/>
<rect x="915" y="683" width="762" height="1" fill="rgba(204,210,225,0.105)"/>
<rect x="915" y="715" width="762" height="1" fill="rgba(204,210,225,0.105)"/>
<rect x="915" y="747" width="762" height="1" fill="rgba(204,210,225,0.105)"/>
<rect x="971" y="554" width="1" height="197" fill="rgba(204,210,225,0.105)"/>
<rect x="1035" y="554" width="1" height="197" fill="rgba(204,210,225,0.105)"/>
<rect x="1098" y="554" width="1" height="197" fill="rgba(204,210,225,0.105)"/>
<rect x="1161" y="554" width="1" height="197" fill="rgba(204,210,225,0.105)"/>
<rect x="1224" y="554" width="1" height="197" fill="rgba(204,210,225,0.105)"/>
<rect x="1287" y="554" width="1" height="197" fill="rgba(204,210,225,0.105)"/>
<rect x="1350" y="554" width="1" height="197" fill="rgba(204,210,225,0.105)"/>
<rect x="1413" y="554" width="1" height="197" fill="rgba(204,210,225,0.105)"/>
<rect x="1476" y="554" width="1" height="197" fill="rgba(204,210,225,0.105)"/>
<rect x="1539" y="554" width="1" height="197" fill="rgba(204,210,225,0.105)"/>
<rect x="1602" y="554" width="1" height="197" fill="rgba(204,210,225,0.105)"/>
<rect x="1665" y="554" width="1" height="197" fill="rgba(204,210,225,0.105)"/>
<text x="909.8" y="557.6" font-size="12" text-anchor="end" fill="#ccccdc"  textLength="38.7" lengthAdjust="spacing">15 mm</text>
<text x="909.8" y="589.6" font-size="12" text-anchor="end" fill="#ccccdc"  textLength="49.3" lengthAdjust="spacing">12.5 mm</text>
<text x="909.8" y="621.6" font-size="12" text-anchor="end" fill="#ccccdc"  textLength="38.7" lengthAdjust="spacing">10 mm</text>
<text x="909.8" y="654.6" font-size="12" text-anchor="end" fill="#ccccdc"  textLength="42.2" lengthAdjust="spacing">7.5 mm</text>
<text x="909.8" y="686.6" font-size="12" text-anchor="end" fill="#ccccdc"  textLength="31.7" lengthAdjust="spacing">5 mm</text>
<text x="909.8" y="718.6" font-size="12" text-anchor="end" fill="#ccccdc"  textLength="42.2" lengthAdjust="spacing">2.5 mm</text>
<text x="909.8" y="750.6" font-size="12" text-anchor="end" fill="#ccccdc"  textLength="31.7" lengthAdjust="spacing">0 mm</text>
<text x="971.5" y="766" font-size="12" text-anchor="middle" fill="#ccccdc"  textLength="32.7" lengthAdjust="spacing">22:00</text>
<text x="1035.5" y="766" font-size="12" text-anchor="middle" fill="#ccccdc"  textLength="32.7" lengthAdjust="spacing">00:00</text>
<text x="1098.5" y="766" font-size="12" text-anchor="middle" fill="#ccccdc"  textLength="32.7" lengthAdjust="spacing">02:00</text>
<text x="1161.5" y="766" font-size="12" text-anchor="middle" fill="#ccccdc"  textLength="32.7" lengthAdjust="spacing">04:00</text>
<text x="1224.5" y="766" font-size="12" text-anchor="middle" fill="#ccccdc"  textLength="32.7" lengthAdjust="spacing">06:00</text>
<text x="1287.5" y="766" font-size="12" text-anchor="middle" fill="#ccccdc"  textLength="32.7" lengthAdjust="spacing">08:00</text>
<text x="1350.5" y="766" font-size="12" text-anchor="middle" fill="#ccccdc"  textLength="30.8" lengthAdjust="spacing">10:00</text>
<text x="1413.5" y="766" font-size="12" text-anchor="middle" fill="#ccccdc"  textLength="30.8" lengthAdjust="spacing">12:00</text>
<text x="1476.5" y="766" font-size="12" text-anchor="middle" fill="#ccccdc"  textLength="30.8" lengthAdjust="spacing">14:00</text>
<text x="1539.5" y="766" font-size="12" text-anchor="middle" fill="#ccccdc"  textLength="30.8" lengthAdjust="spacing">16:00</text>
<text x="1602.5" y="766" font-size="12" text-anchor="middle" fill="#ccccdc"  textLength="30.8" lengthAdjust="spacing">18:00</text>
<text x="1665.5" y="766" font-size="12" text-anchor="middle" fill="#ccccdc"  textLength="32.7" lengthAdjust="spacing">20:00</text>
<rect x="931" y="710.6" width="19" height="36.4" fill="#124fbe"/>
<rect x="962" y="702.0" width="19" height="45.0" fill="#124fbe"/>
<rect x="994" y="723.9" width="19" height="23.1" fill="#124fbe"/>
<rect x="1025" y="719.6" width="19" height="27.4" fill="#124fbe"/>
<rect x="1057" y="737.7" width="19" height="9.3" fill="#124fbe"/>
<rect x="1088" y="741.9" width="19" height="5.1" fill="#124fbe"/>
<rect x="1120" y="728.6" width="19" height="18.4" fill="#124fbe"/>
<rect x="1151" y="728.6" width="19" height="18.4" fill="#124fbe"/>
<rect x="1183" y="702.0" width="19" height="45.0" fill="#124fbe"/>
<rect x="1215" y="648.1" width="19" height="98.9" fill="#124fbe"/>
<rect x="1246" y="710.6" width="19" height="36.4" fill="#124fbe"/>
<rect x="1278" y="710.6" width="19" height="36.4" fill="#124fbe"/>
<rect x="1309" y="710.6" width="19" height="36.4" fill="#124fbe"/>
<rect x="1341" y="728.6" width="19" height="18.4" fill="#124fbe"/>
<rect x="1372" y="746.6" width="19" height="0.4" fill="#124fbe"/>
<rect x="1404" y="702.0" width="19" height="45.0" fill="#124fbe"/>
<rect x="1435" y="714.9" width="19" height="32.1" fill="#124fbe"/>
<rect x="1467" y="687.6" width="19" height="59.4" fill="#124fbe"/>
<rect x="1499" y="576.1" width="19" height="170.9" fill="#124fbe"/>
<rect x="1530" y="597.9" width="19" height="149.1" fill="#124fbe"/>
<rect x="1562" y="705.9" width="19" height="41.1" fill="#124fbe"/>
<rect x="1593" y="719.6" width="19" height="27.4" fill="#124fbe"/>
<rect x="1625" y="741.9" width="19" height="5.1" fill="#124fbe"/>
<rect x="1656" y="741.9" width="19" height="5.1" fill="#124fbe"/>
<rect x="866" y="781" width="14" height="4" rx="2" fill="#124fbe"/>
<text x="888.0" y="786" font-size="12" text-anchor="start" fill="#ccccdc"  textLength="21.5" lengthAdjust="spacing">rain</text>
<text x="917.3" y="786" font-size="12" text-anchor="start" fill="#ccccdc"  textLength="86.6" lengthAdjust="spacing">Last *: 350 µm</text>
<text x="1011.7" y="786" font-size="12" text-anchor="start" fill="#ccccdc"  textLength="80.1" lengthAdjust="spacing">Max: 13.3 mm</text>
<text x="1099.9" y="786" font-size="12" text-anchor="start" fill="#ccccdc"  textLength="60.1" lengthAdjust="spacing">Min: 0 mm</text>
</svg></section>
<section class="p" id="rad" style="left:5px;top:809px;width:840px;height:296px">
<svg width="840" height="296" viewBox="5 809 840 296">
<text class="t" x="14" y="831" fill="#ccccdc" textLength="147.5" lengthAdjust="spacing">Radiation Regensdorf</text>
<rect x="76.6" y="869" width="752.4" height="1" fill="rgba(204,210,225,0.105)"/>
<rect x="76.6" y="908" width="752.4" height="1" fill="rgba(204,210,225,0.105)"/>
<rect x="76.6" y="946" width="752.4" height="1" fill="rgba(204,210,225,0.105)"/>
<rect x="76.6" y="984" width="752.4" height="1" fill="rgba(204,210,225,0.105)"/>
<rect x="76.6" y="1022" width="752.4" height="1" fill="rgba(204,210,225,0.105)"/>
<rect x="132" y="858" width="1" height="174" fill="rgba(204,210,225,0.105)"/>
<rect x="194" y="858" width="1" height="174" fill="rgba(204,210,225,0.105)"/>
<rect x="256" y="858" width="1" height="174" fill="rgba(204,210,225,0.105)"/>
<rect x="319" y="858" width="1" height="174" fill="rgba(204,210,225,0.105)"/>
<rect x="381" y="858" width="1" height="174" fill="rgba(204,210,225,0.105)"/>
<rect x="443" y="858" width="1" height="174" fill="rgba(204,210,225,0.105)"/>
<rect x="506" y="858" width="1" height="174" fill="rgba(204,210,225,0.105)"/>
<rect x="568" y="858" width="1" height="174" fill="rgba(204,210,225,0.105)"/>
<rect x="630" y="858" width="1" height="174" fill="rgba(204,210,225,0.105)"/>
<rect x="693" y="858" width="1" height="174" fill="rgba(204,210,225,0.105)"/>
<rect x="755" y="858" width="1" height="174" fill="rgba(204,210,225,0.105)"/>
<rect x="817" y="858" width="1" height="174" fill="rgba(204,210,225,0.105)"/>
<text x="70.8" y="872.6" font-size="12" text-anchor="end" fill="#ccccdc"  textLength="58.4" lengthAdjust="spacing">160 nSv/h</text>
<text x="70.8" y="911.6" font-size="12" text-anchor="end" fill="#ccccdc"  textLength="58.4" lengthAdjust="spacing">140 nSv/h</text>
<text x="70.8" y="949.6" font-size="12" text-anchor="end" fill="#ccccdc"  textLength="58.4" lengthAdjust="spacing">120 nSv/h</text>
<text x="70.8" y="987.6" font-size="12" text-anchor="end" fill="#ccccdc"  textLength="58.4" lengthAdjust="spacing">100 nSv/h</text>
<text x="70.8" y="1025.6" font-size="12" text-anchor="end" fill="#ccccdc"  textLength="51.2" lengthAdjust="spacing">80 nSv/h</text>
<text x="132.5" y="1047.1" font-size="12" text-anchor="middle" fill="#ccccdc"  textLength="32.7" lengthAdjust="spacing">22:00</text>
<text x="194.5" y="1047.1" font-size="12" text-anchor="middle" fill="#ccccdc"  textLength="32.7" lengthAdjust="spacing">00:00</text>
<text x="256.5" y="1047.1" font-size="12" text-anchor="middle" fill="#ccccdc"  textLength="32.7" lengthAdjust="spacing">02:00</text>
<text x="319.5" y="1047.1" font-size="12" text-anchor="middle" fill="#ccccdc"  textLength="32.7" lengthAdjust="spacing">04:00</text>
<text x="381.5" y="1047.1" font-size="12" text-anchor="middle" fill="#ccccdc"  textLength="32.7" lengthAdjust="spacing">06:00</text>
<text x="443.5" y="1047.1" font-size="12" text-anchor="middle" fill="#ccccdc"  textLength="32.7" lengthAdjust="spacing">08:00</text>
<text x="506.5" y="1047.1" font-size="12" text-anchor="middle" fill="#ccccdc"  textLength="30.8" lengthAdjust="spacing">10:00</text>
<text x="568.5" y="1047.1" font-size="12" text-anchor="middle" fill="#ccccdc"  textLength="30.8" lengthAdjust="spacing">12:00</text>
<text x="630.5" y="1047.1" font-size="12" text-anchor="middle" fill="#ccccdc"  textLength="30.8" lengthAdjust="spacing">14:00</text>
<text x="693.5" y="1047.1" font-size="12" text-anchor="middle" fill="#ccccdc"  textLength="30.8" lengthAdjust="spacing">16:00</text>
<text x="755.5" y="1047.1" font-size="12" text-anchor="middle" fill="#ccccdc"  textLength="30.8" lengthAdjust="spacing">18:00</text>
<text x="817.5" y="1047.1" font-size="12" text-anchor="middle" fill="#ccccdc"  textLength="32.7" lengthAdjust="spacing">20:00</text>
<polyline points="103.6,873.5 133.8,898.5 165.7,904.5 197.3,944.7 228.6,927.4 259.3,942.5 290.7,940.3 322.0,946.6 353.6,910.3 384.1,898.5 415.7,929.5 447.5,938.6 478.2,908.4 509.3,971.3 540.3,965.3 572.7,1013.3 603.8,985.6 634.8,936.7 665.9,934.5 697.2,906.5 728.2,927.4 759.6,892.5 790.6,971.3 822.5,975.4" fill="none" stroke="#66B95E" stroke-width="1.05" stroke-linejoin="round" stroke-linecap="butt"/>
<polyline points="80.5,935.6 828.0,935.6" fill="none" stroke="#EFC606" stroke-width="1.3" stroke-linejoin="round" stroke-linecap="butt"/>
<rect x="18" y="1061" width="14" height="4" rx="2" fill="#66B95E"/>
<text x="40.2" y="1067" font-size="12" text-anchor="start" fill="#ccccdc"  textLength="144.0" lengthAdjust="spacing">Radiation Intensity Static</text>
<text x="191.8" y="1067" font-size="12" text-anchor="start" fill="#ccccdc"  textLength="99.3" lengthAdjust="spacing">Last *: 105 nSv/h</text>
<text x="299.0" y="1067" font-size="12" text-anchor="start" fill="#ccccdc"  textLength="88.2" lengthAdjust="spacing">Max: 158 nSv/h</text>
<text x="395.1" y="1067" font-size="12" text-anchor="start" fill="#ccccdc"  textLength="79.7" lengthAdjust="spacing">Min: 85 nSv/h</text>
<rect x="18" y="1085" width="14" height="4" rx="2" fill="#EFC606"/>
<text x="40.2" y="1090" font-size="12" text-anchor="start" fill="#ccccdc"  textLength="157.8" lengthAdjust="spacing">Radiation Intensity Average</text>
<text x="206.1" y="1090" font-size="12" text-anchor="start" fill="#ccccdc"  textLength="98.7" lengthAdjust="spacing">Last *: 126 nSv/h</text>
<text x="312.1" y="1090" font-size="12" text-anchor="start" fill="#ccccdc"  textLength="88.9" lengthAdjust="spacing">Max: 126 nSv/h</text>
<text x="408.8" y="1090" font-size="12" text-anchor="start" fill="#ccccdc"  textLength="85.3" lengthAdjust="spacing">Min: 126 nSv/h</text>
</svg></section>
</body></html>
